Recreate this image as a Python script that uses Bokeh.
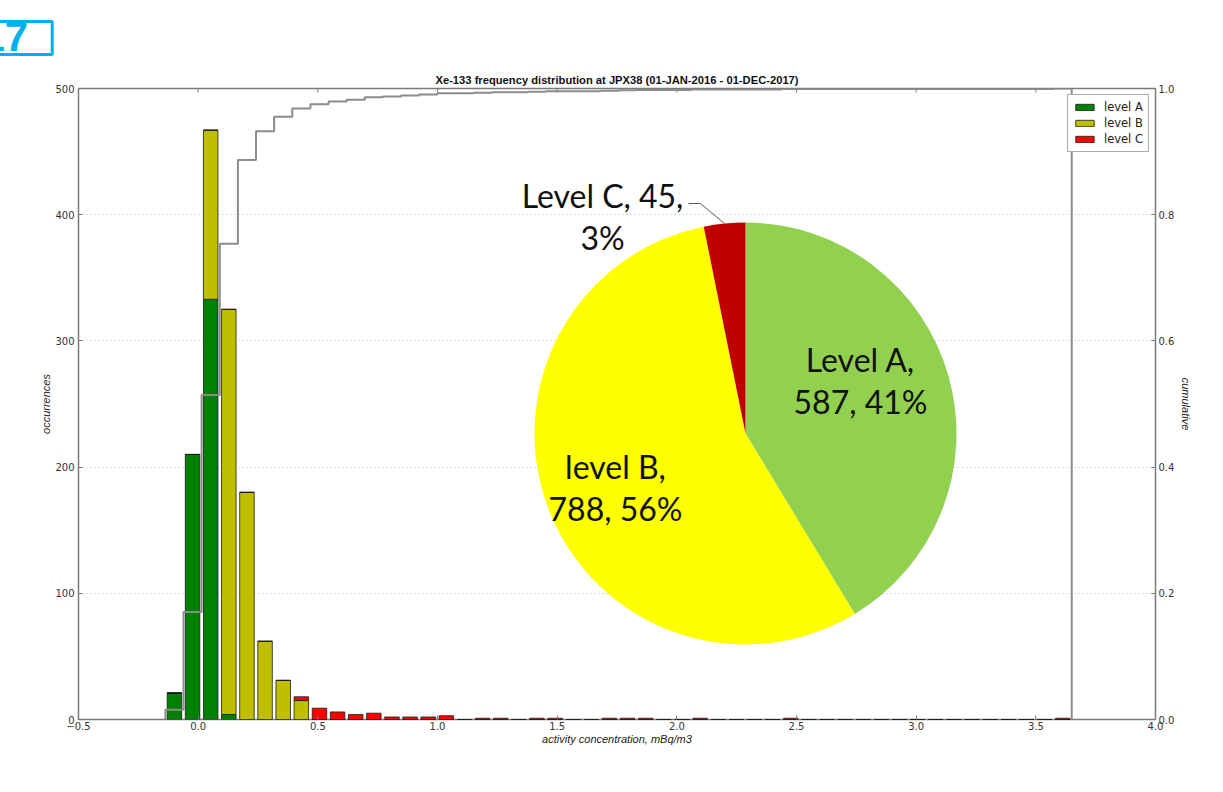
import numpy as np
from bokeh.plotting import figure
from bokeh.models import (Range1d, LinearAxis, FixedTicker, CustomJSTickFormatter,
                          Title, ColumnDataSource)
from bokeh.core.properties import value
from bokeh.embed import file_html
from bokeh.resources import INLINE

# ---------------- data ----------------
TITLE = "Xe-133 frequency distribution at JPX38 (01-JAN-2016 - 01-DEC-2017)"
X_LABEL = "activity concentration, mBq/m3"
Y_LABEL = "occurrences"
Y2_LABEL = "cumulative"
X_TICKS = [-0.5, 0.0, 0.5, 1.0, 1.5, 2.0, 2.5, 3.0, 3.5, 4.0]
Y_TICKS = [0, 100, 200, 300, 400, 500]
Y2_TICKS = [0.0, 0.2, 0.4, 0.6, 0.8, 1.0]
HIST_MIN = -0.137
HIST_MAX = 3.65
LEVELS = ["level A", "level B", "level C"]
COUNT_A = [21, 210, 333, 4, 0, 0, 0, 0, 0, 0,
           0, 0, 0, 0, 0, 0, 0, 0, 0, 0,
           0, 0, 0, 0, 0, 0, 0, 0, 0, 0,
           0, 0, 0, 0, 0, 0, 0, 0, 0, 0,
           0, 0, 0, 0, 0, 0, 0, 0, 0, 0]
COUNT_B = [0, 0, 134, 321, 180, 62, 31, 15, 0, 0,
           0, 0, 0, 0, 0, 0, 0, 0, 0, 0,
           0, 0, 0, 0, 0, 0, 0, 0, 0, 0,
           0, 0, 0, 0, 0, 0, 0, 0, 0, 0,
           0, 0, 0, 0, 0, 0, 0, 0, 0, 0]
COUNT_C = [0, 0, 0, 0, 0, 0, 0, 3, 9, 6,
           4, 5, 2, 2, 2, 3, 0, 1, 1, 0,
           1, 1, 0, 0, 1, 1, 1, 0, 0, 1,
           0, 0, 0, 0, 1, 0, 0, 0, 0, 0,
           0, 0, 0, 0, 0, 0, 0, 0, 0, 1]
PIE_LABELS = ["Level A", "level B", "Level C"]
PIE_VALUES = [587, 788, 45]
PIE_PERCENT = [41, 56, 3]
SLIDE_NUMBER = "17"

# ---------------- styles ----------------
BAR_COLORS = ["#008000", "#bfbf00", "#ff0000"]
PIE_COLORS = ["#92d050", "#ffff00", "#c00000"]
FRAME_W, FRAME_H = 1077, 631
W, H = 1223, 792
L, T = 78, 88

p = figure(width=W, height=H, output_backend="svg", toolbar_location=None,
           x_range=Range1d(-0.5, 4.0), y_range=Range1d(0, 500),
           min_border_left=L, min_border_right=W - L - FRAME_W,
           min_border_top=T, min_border_bottom=H - T - FRAME_H)
p.extra_y_ranges = {"cum": Range1d(0, 1), "px": Range1d(0, FRAME_H)}
p.extra_x_ranges = {"px": Range1d(0, FRAME_W)}
p.background_fill_color = "white"
p.border_fill_color = "white"
p.outline_line_color = "#7a7a7a"
p.outline_line_width = 1.5
p.xgrid.visible = False
p.ygrid.grid_line_color = "#bdbdbd"
p.ygrid.grid_line_dash = "1 3"
p.ygrid.ticker = FixedTicker(ticks=Y_TICKS)

fmt1 = CustomJSTickFormatter(code="return (tick < 0 ? '\u2212' : '') + Math.abs(tick).toFixed(1);")
fmt0 = CustomJSTickFormatter(code="return tick.toFixed(0);")

def style_axis(ax):
    ax.axis_line_color = None
    ax.major_tick_in = 4
    ax.major_tick_out = 0
    ax.major_tick_line_color = "#7a7a7a"
    ax.minor_tick_line_color = None
    ax.major_label_text_font = "DejaVu Sans"
    ax.major_label_text_font_size = "10px"
    ax.major_label_text_color = "#333333"
    ax.axis_label_text_font = "Liberation Sans"
    ax.axis_label_text_font_style = "italic"
    ax.axis_label_text_font_size = "11px"
    ax.axis_label_text_color = "#222222"

xa = p.xaxis[0]
xa.ticker = FixedTicker(ticks=X_TICKS)
xa.formatter = fmt1
xa.axis_label = X_LABEL
style_axis(xa)
xa.major_label_standoff = 2
xa.axis_label_standoff = 0

ya = p.yaxis[0]
ya.ticker = FixedTicker(ticks=Y_TICKS)
ya.formatter = fmt0
ya.axis_label = Y_LABEL
style_axis(ya)
ya.major_label_standoff = 4
ya.axis_label_standoff = 0

ra = LinearAxis(y_range_name="cum", ticker=FixedTicker(ticks=Y2_TICKS), formatter=fmt1,
                axis_label=Y2_LABEL)
style_axis(ra)
ra.major_label_standoff = 3
ra.axis_label_standoff = 3
p.add_layout(ra, "right")

# top ticks (inside the frame, like the other three sides)
p.segment(x0=X_TICKS, y0=FRAME_H, x1=X_TICKS, y1=FRAME_H - 4, y_range_name="px",
          line_color="#7a7a7a", line_width=1)

# ---------------- title & slide number (side panel, stacked from the frame outward) ----------------
p.title = None
p.add_layout(Title(text=TITLE, align="center", text_font="Liberation Sans",
                   text_font_style="bold", text_font_size="11.2px", text_color="#111111",
                   standoff=6), "above")
num = Title(text=SLIDE_NUMBER, align="left", text_font="Liberation Sans",
            text_font_style="bold", text_font_size="42px", text_color="#00b0f0",
            background_fill_color="white", border_line_color="#00b0f0",
            border_line_width=3, offset=-97, standoff=28)
if "padding" in num.properties():
    try:
        num.padding = dict(left=0, right=24, top=0, bottom=4)
    except Exception:
        pass
p.add_layout(num, "above")

# ---------------- histogram ----------------
nb = len(COUNT_A)
edges = np.linspace(HIST_MIN, HIST_MAX, nb + 1)
centers = (edges[:-1] + edges[1:]) / 2
bw = edges[1] - edges[0]
src = ColumnDataSource(dict(x=centers, a=COUNT_A, b=COUNT_B, c=COUNT_C))
p.vbar_stack(["a", "b", "c"], x="x", width=0.8 * bw, source=src, color=BAR_COLORS,
             line_color="#1a1a1a", line_width=0.8, legend_label=LEVELS)

total = np.array(COUNT_A) + np.array(COUNT_B) + np.array(COUNT_C)
cum = np.cumsum(total) / total.sum()
sx, sy = [edges[0]], [0.0]
for i in range(nb):
    sx += [edges[i], edges[i + 1]]
    sy += [cum[i], cum[i]]
sx.append(edges[-1]); sy.append(0.0)
p.line(sx, sy, y_range_name="cum", line_color="#8c8c8c", line_width=2)

leg = p.legend[0]
leg.location = "top_right"
leg.margin = 6
leg.padding = 5
leg.spacing = 2
leg.glyph_width = 23
leg.glyph_height = 8
leg.label_height = 12
leg.label_standoff = 8
leg.label_text_font = "DejaVu Sans"
leg.label_text_font_size = "11.5px"
leg.label_text_color = "#222222"
leg.border_line_color = "#555555"
leg.border_line_width = 1
leg.background_fill_alpha = 1

# ---------------- pie overlay (frame pixel coordinates) ----------------
vals = np.array(PIE_VALUES, dtype=float)
frac = np.cumsum(np.concatenate([[0], vals])) / vals.sum()
starts = np.pi / 2 - 2 * np.pi * frac[:-1]
ends = np.pi / 2 - 2 * np.pi * frac[1:]
pie_src = ColumnDataSource(dict(s=starts, e=ends, color=PIE_COLORS))
p.wedge(x=667, y=286, radius=211, start_angle="s", end_angle="e", direction="clock",
        fill_color="color", line_color=None, source=pie_src,
        x_range_name="px", y_range_name="px")

pie_text = [
    f"{PIE_LABELS[0]},\n{PIE_VALUES[0]}, {PIE_PERCENT[0]}%",
    f"{PIE_LABELS[1]},\n{PIE_VALUES[1]}, {PIE_PERCENT[1]}%",
    f"{PIE_LABELS[2]}, {PIE_VALUES[2]},\n{PIE_PERCENT[2]}%",
]
p.text(x=[782, 537, 524], y=[339, 232, 503], text=pie_text,
       x_range_name="px", y_range_name="px",
       text_font=value("Lato"), text_font_size="32px", text_color="#111111",
       text_align="center", text_baseline="middle", text_line_height=1.07)
p.line([610, 622, 646], [516, 516, 496], x_range_name="px", y_range_name="px",
       line_color="#595959", line_width=1)

open("out.html", "w").write(file_html(p, INLINE))
